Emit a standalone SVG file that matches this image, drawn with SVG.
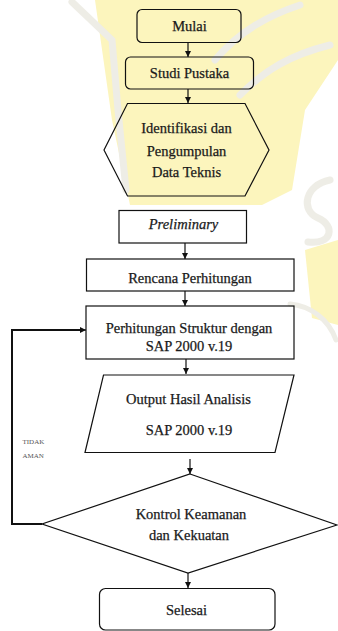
<svg xmlns="http://www.w3.org/2000/svg" width="338" height="631" viewBox="0 0 338 631">
<style>
.s{fill:none;stroke:#111;stroke-width:1.2}
.t{font-family:"Liberation Serif","Times New Roman",serif;font-size:14.5px;fill:#1a1a1a;stroke:#1a1a1a;stroke-width:0.25;text-anchor:middle}
.c{stroke:#111;stroke-width:1.2;fill:none}
.wm{fill:#fcf3ad}
.wg{fill:none;stroke:#ebe9e0;stroke-width:7;stroke-linecap:round}
.lb{font-family:"Liberation Serif","Times New Roman",serif;font-size:7px;fill:#555}
</style>
<defs>
<marker id="ah" viewBox="0 0 10 10" refX="10" refY="5" markerWidth="6" markerHeight="6" markerUnits="userSpaceOnUse" orient="auto">
<path d="M0,0 L10,5 L0,10 z" fill="#111"/>
</marker>
</defs>
<rect width="338" height="631" fill="#ffffff"/>
<g id="watermark" opacity="0.8">
<path class="wm" d="M95,0 L338,0 L338,60 L305,110 L292,190 L262,205 L130,205 L112,120 Z"/>
<path class="wm" d="M305,250 L338,240 L338,325 L312,318 Z"/>
<path class="wg" d="M72,2 L112,40 L118,110 L126,190"/>
<path class="wg" d="M215,60 C240,30 270,15 300,5"/>
<path class="wg" d="M240,95 C265,70 290,55 330,45"/>
<path class="wg" d="M330,180 C305,185 300,210 318,218 C336,226 332,245 308,242"/>
<path class="wg" style="stroke-width:5" d="M290,304 C310,306 328,318 336,340"/>
</g>
<g id="connectors">
<line class="c" x1="188" y1="43" x2="188" y2="57" marker-end="url(#ah)"/>
<line class="c" x1="188" y1="89" x2="188" y2="103" marker-end="url(#ah)"/>
<line class="c" x1="185" y1="243" x2="185" y2="259" marker-end="url(#ah)"/>
<line class="c" x1="185" y1="291" x2="185" y2="306" marker-end="url(#ah)"/>
<line class="c" x1="186" y1="359" x2="186" y2="374" marker-end="url(#ah)"/>
<line class="c" x1="190" y1="459" x2="190" y2="474" marker-end="url(#ah)"/>
<line class="c" x1="188" y1="573" x2="188" y2="588" marker-end="url(#ah)"/>
<polyline class="c" style="stroke-width:2" points="42,524 12,524 12,330 80,330"/>
<line class="c" x1="79" y1="330" x2="86" y2="330" marker-end="url(#ah)"/>
<text class="lb" x="22.5" y="444">TIDAK</text>
<text class="lb" x="22.5" y="457.5">AMAN</text>
</g>
<g id="mulai">
<rect class="s" x="137" y="9.5" width="104" height="33" rx="5"/>
<text class="t" x="189.5" y="31">Mulai</text>
</g>
<g id="studi">
<rect class="s" x="125.5" y="57" width="128" height="32" rx="5"/>
<text class="t" x="189.5" y="78">Studi Pustaka</text>
</g>
<g id="identifikasi">
<polygon class="s" points="127.5,103.5 245,103.5 269,150 245,196 127.5,196 104,150"/>
<text class="t" x="186.5" y="133">Identifikasi dan</text>
<text class="t" x="186.5" y="155.5">Pengumpulan</text>
<text class="t" x="186.5" y="177">Data Teknis</text>
</g>
<g id="preliminary">
<rect class="s" x="119" y="210.5" width="127.5" height="32.5"/>
<text class="t" x="183.5" y="229" font-style="italic">Preliminary</text>
</g>
<g id="rencana">
<rect class="s" x="86.5" y="259" width="207.5" height="32"/>
<text class="t" x="190" y="283">Rencana Perhitungan</text>
</g>
<g id="perhitungan">
<rect class="s" x="86" y="306" width="208" height="53"/>
<text class="t" x="189" y="333">Perhitungan Struktur dengan</text>
<text class="t" x="189" y="350.5">SAP 2000 v.19</text>
</g>
<g id="output">
<polygon class="s" points="103.5,375 294,375 275,452.5 85,452.5"/>
<text class="t" x="188.5" y="404">Output Hasil Analisis</text>
<text class="t" x="189" y="435">SAP 2000 v.19</text>
</g>
<g id="kontrol">
<polygon class="s" points="190,474 337,525 188,573 42,524"/>
<text class="t" x="191" y="519">Kontrol Keamanan</text>
<text class="t" x="189" y="539.5">dan Kekuatan</text>
</g>
<g id="selesai">
<rect class="s" x="99.5" y="588.5" width="175.5" height="41.5" rx="6"/>
<text class="t" x="186.5" y="615">Selesai</text>
</g>
</svg>
